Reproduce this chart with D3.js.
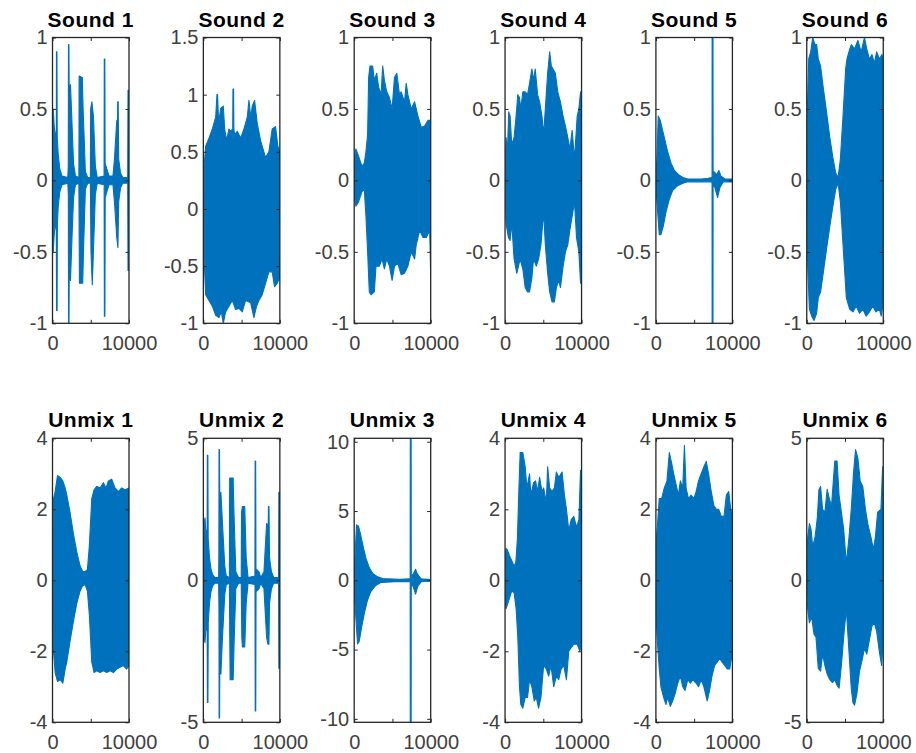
<!DOCTYPE html>
<html><head><meta charset="utf-8">
<script src="https://cdn.jsdelivr.net/npm/d3@7/dist/d3.min.js"></script>
<style>
body{margin:0;background:#fff;}
svg{display:block;font-family:"Liberation Sans",Arial,Helvetica,sans-serif;}
</style></head><body>
<svg id="chart" width="916" height="753"></svg>
<script>
// ---------- data ----------
const titles = ["Sound 1","Sound 2","Sound 3","Sound 4","Sound 5","Sound 6",
                "Unmix 1","Unmix 2","Unmix 3","Unmix 4","Unmix 5","Unmix 6"];
const xTicks = [0, 5000, 10000];
const xTickLabels = ["0", "", "10000"];
const yDomains = [[-1,1],[-1,1.5],[-1,1],[-1,1],[-1,1],[-1,1],
                  [-4,4],[-5,5],[-10.25,10.25],[-4,4],[-4,4],[-5,5]];
const yTicks = [[-1,-0.5,0,0.5,1],[-1,-0.5,0,0.5,1,1.5],[-1,-0.5,0,0.5,1],[-1,-0.5,0,0.5,1],[-1,-0.5,0,0.5,1],[-1,-0.5,0,0.5,1],
                [-4,-2,0,2,4],[-5,0,5],[-10,-5,0,5,10],[-4,-2,0,2,4],[-4,-2,0,2,4],[-5,0,5]];

// envelopes: [sample, value]
const sound1Hi = [[0,0.28],[100,0.5],[200,0.4],[350,0.3],[500,0.35],[520,0.9],[580,0.9],[620,0.3],[750,0.18],[950,0.08],[1250,0.03],[2000,0.02],[2060,0.1],[2090,0.95],[2150,0.95],[2180,0.6],[2350,0.67],[2550,0.4],[2750,0.12],[3000,0.03],[3450,0.02],[3480,0.73],[3900,0.72],[4000,0.5],[4300,0.06],[4600,0.02],[4950,0.02],[4990,0.5],[5150,0.55],[5350,0.45],[5600,0.1],[5850,0.02],[6740,0.03],[6770,0.85],[6840,0.85],[6880,0.12],[7100,0.08],[7400,0.03],[7900,0.03],[8100,0.15],[8400,0.42],[8500,0.38],[8520,0.55],[8590,0.55],[8650,0.15],[8900,0.05],[9200,0.02],[9830,0.02],[9870,0.63],[10000,0.63]];
const sound1Lo = [[0,-0.28],[100,-0.5],[200,-0.4],[350,-0.3],[500,-0.35],[530,-0.91],[600,-0.91],[640,-0.3],[750,-0.18],[950,-0.08],[1250,-0.03],[2000,-0.02],[2070,-0.1],[2100,-1.0],[2160,-1.0],[2190,-0.6],[2350,-0.7],[2550,-0.4],[2750,-0.12],[3000,-0.03],[3450,-0.02],[3520,-0.72],[3950,-0.72],[4050,-0.5],[4300,-0.06],[4600,-0.02],[4950,-0.02],[5030,-0.5],[5200,-0.73],[5380,-0.45],[5600,-0.1],[5850,-0.02],[6750,-0.03],[6780,-0.95],[6850,-0.95],[6890,-0.12],[7100,-0.08],[7400,-0.03],[7900,-0.03],[8100,-0.15],[8400,-0.4],[8550,-0.47],[8650,-0.15],[8900,-0.05],[9200,-0.02],[9830,-0.02],[9870,-0.63],[10000,-0.63]];

const sound2Hi = [[0,0.3],[304,0.55],[739,0.62],[1174,0.7],[1609,0.8],[1780,1.0],[1860,1.0],[2000,0.75],[2261,0.88],[2609,0.9],[2783,0.7],[3043,0.6],[3348,0.7],[3565,0.68],[3840,0.7],[3870,1.05],[3950,1.05],[3990,0.7],[4087,0.65],[4435,0.68],[4870,0.62],[5304,0.7],[5739,0.8],[5957,0.95],[6200,0.8],[6391,0.9],[6696,0.95],[7043,0.75],[7478,0.6],[8130,0.45],[8565,0.5],[9000,0.7],[9435,0.72],[9739,0.55],[10000,0.5]];
const sound2Lo = [[0,-0.3],[304,-0.75],[739,-0.8],[1174,-0.85],[1609,-0.93],[2043,-0.95],[2348,-0.9],[2609,-1.0],[2913,-0.9],[3348,-0.85],[3783,-0.8],[4217,-0.88],[4652,-0.87],[5087,-0.9],[5522,-0.8],[6174,-0.82],[6609,-0.95],[6957,-0.85],[7261,-0.8],[7696,-0.75],[8130,-0.65],[8565,-0.55],[9000,-0.55],[9304,-0.68],[9652,-0.65],[10000,-0.6]];

const sound3Hi = [[0,0.15],[219,0.22],[570,0.17],[1009,0.1],[1316,0.12],[1535,0.2],[1754,0.32],[1886,0.72],[2061,0.8],[2412,0.8],[2632,0.7],[2939,0.75],[3202,0.65],[3509,0.6],[3728,0.8],[3947,0.7],[4254,0.62],[4605,0.58],[4956,0.5],[5263,0.72],[5570,0.75],[5921,0.6],[6140,0.62],[6579,0.55],[6798,0.68],[7018,0.6],[7456,0.5],[7895,0.55],[8333,0.45],[8772,0.37],[9211,0.38],[9649,0.42],[9868,0.42],[10000,0.35]];
const sound3Lo = [[0,-0.12],[219,-0.18],[570,-0.15],[1009,-0.08],[1316,-0.06],[1535,-0.25],[1754,-0.5],[1974,-0.78],[2193,-0.8],[2632,-0.78],[2851,-0.6],[3289,-0.6],[3640,-0.55],[3947,-0.62],[4254,-0.55],[4605,-0.6],[4956,-0.7],[5263,-0.6],[5702,-0.58],[6140,-0.66],[6579,-0.65],[7018,-0.6],[7456,-0.5],[7895,-0.55],[8114,-0.45],[8553,-0.35],[8991,-0.4],[9430,-0.4],[9868,-0.35],[10000,-0.68]];

const sound4Hi = [[0,0.1],[132,0.3],[307,0.2],[482,0.48],[658,0.45],[877,0.25],[1184,0.3],[1447,0.45],[1667,0.6],[1886,0.58],[2061,0.5],[2325,0.62],[2632,0.62],[2939,0.6],[3202,0.68],[3509,0.78],[3728,0.7],[3947,0.78],[4254,0.6],[4518,0.55],[4825,0.45],[5044,0.32],[5263,0.5],[5570,0.75],[5833,0.9],[6053,0.8],[6272,0.78],[6579,0.75],[6886,0.62],[7237,0.55],[7588,0.45],[7895,0.38],[8202,0.3],[8465,0.22],[8772,0.35],[9079,0.15],[9430,0.45],[9649,0.5],[9868,0.62],[10000,0.55]];
const sound4Lo = [[0,-0.1],[132,-0.3],[439,-0.4],[658,-0.42],[877,-0.3],[1184,-0.55],[1535,-0.65],[1754,-0.6],[1974,-0.55],[2325,-0.62],[2632,-0.75],[2939,-0.78],[3202,-0.78],[3509,-0.68],[3728,-0.55],[4079,-0.6],[4386,-0.55],[4693,-0.45],[5044,-0.22],[5263,-0.45],[5570,-0.65],[5833,-0.78],[6140,-0.85],[6447,-0.85],[6711,-0.75],[7018,-0.7],[7237,-0.75],[7588,-0.6],[7895,-0.5],[8202,-0.45],[8465,-0.35],[8772,-0.25],[9079,-0.15],[9342,-0.4],[9649,-0.5],[9868,-0.72],[10000,-0.6]];

const sound5Hi = [[0,0.05],[132,0.15],[308,0.45],[573,0.42],[881,0.35],[1189,0.28],[1542,0.2],[1982,0.12],[2423,0.07],[2952,0.04],[3524,0.02],[4185,0.01],[5947,0.01],[6828,0.015],[7269,0.02],[7340,0.02],[7355,1.5],[7460,1.5],[7475,0.06],[7621,0.06],[7930,0.04],[8238,0.07],[8502,0.03],[9031,0.01],[10000,0.01]];
const sound5Lo = [[0,-0.05],[132,-0.15],[441,-0.38],[661,-0.38],[969,-0.32],[1322,-0.22],[1762,-0.13],[2203,-0.07],[2775,-0.04],[3524,-0.02],[4185,-0.01],[7269,-0.01],[7340,-0.02],[7355,-1.5],[7460,-1.5],[7475,-0.03],[7709,-0.05],[8062,-0.12],[8370,-0.05],[8811,-0.01],[10000,-0.01]];

const sound6Hi = [[0,0.05],[86,0.5],[259,0.85],[517,0.9],[776,1.0],[1078,0.95],[1293,0.95],[1509,0.85],[1810,0.8],[2155,0.65],[2586,0.48],[3017,0.3],[3448,0.15],[3793,0.05],[4095,0.02],[4397,0.15],[4741,0.45],[5086,0.78],[5259,0.85],[5517,0.9],[5819,0.95],[6250,0.92],[6681,0.98],[7112,0.9],[7543,1.0],[7845,0.92],[8190,0.85],[8534,0.88],[8836,0.82],[9138,0.9],[9483,0.85],[9828,0.88],[10000,0.85]];
const sound6Lo = [[0,-0.1],[129,-0.6],[345,-0.9],[647,-0.95],[948,-0.98],[1293,-0.93],[1509,-0.82],[1810,-0.78],[2155,-0.65],[2586,-0.48],[3017,-0.32],[3448,-0.17],[3793,-0.06],[4095,-0.02],[4397,-0.15],[4741,-0.45],[5172,-0.82],[5603,-0.9],[6034,-0.92],[6466,-0.88],[6897,-0.93],[7328,-0.9],[7759,-0.95],[8190,-0.92],[8621,-0.88],[9052,-0.92],[9483,-0.9],[9741,-0.95],[10000,-0.85]];

const unmix1Hi = [[0,0.3],[130,2.3],[348,2.5],[652,2.95],[1000,2.9],[1348,2.8],[1652,2.6],[1870,2.4],[2304,1.9],[2739,1.3],[3174,0.8],[3609,0.4],[3957,0.25],[4261,0.25],[4565,0.3],[4826,1.0],[5130,2.3],[5435,2.55],[5783,2.65],[6217,2.6],[6652,2.75],[7000,2.6],[7304,2.8],[7739,2.85],[8174,2.6],[8609,2.5],[9043,2.6],[9478,2.55],[10000,2.6]];
const unmix1Lo = [[0,-0.3],[130,-2.0],[348,-2.6],[652,-2.85],[1000,-2.8],[1348,-2.9],[1652,-2.5],[1870,-2.3],[2304,-1.7],[2739,-1.15],[3174,-0.65],[3609,-0.3],[3957,-0.15],[4261,-0.12],[4565,-0.3],[4826,-1.0],[5130,-2.3],[5435,-2.6],[5783,-2.55],[6217,-2.6],[6652,-2.55],[7087,-2.6],[7522,-2.55],[7957,-2.6],[8391,-2.5],[8826,-2.45],[9261,-2.4],[9696,-2.5],[10000,-2.4]];

const unmix2Hi = [[0,1.3],[100,2.0],[216,2.2],[350,1.6],[500,1.8],[520,4.4],[590,4.4],[630,1.5],[800,0.8],[996,0.4],[1212,0.2],[1500,0.1],[2000,0.1],[2030,1.0],[2050,4.6],[2110,4.6],[2150,2.5],[2294,3.1],[2500,2.0],[2800,0.5],[3000,0.15],[3400,0.1],[3440,3.6],[3896,3.6],[4000,2.4],[4242,0.3],[4600,0.1],[4950,0.1],[4990,2.4],[5108,2.6],[5411,2.6],[5600,0.8],[5844,0.1],[6740,0.15],[6770,4.2],[6840,4.2],[6880,0.4],[7273,0.3],[7500,0.1],[7922,0.3],[8268,2.0],[8480,1.9],[8510,2.6],[8580,2.6],[8650,0.8],[8900,0.3],[9200,0.1],[9830,0.1],[9870,3.1],[10000,3.1]];
const unmix2Lo = [[0,-1.3],[100,-2.0],[216,-2.2],[350,-1.6],[500,-1.8],[530,-4.3],[600,-4.3],[640,-1.5],[800,-0.8],[996,-0.4],[1212,-0.2],[1500,-0.1],[2000,-0.1],[2040,-1.0],[2060,-4.85],[2120,-4.85],[2160,-2.5],[2294,-3.3],[2500,-2.0],[2800,-0.5],[3000,-0.15],[3400,-0.1],[3500,-3.5],[3896,-3.5],[4000,-2.4],[4242,-0.3],[4600,-0.1],[4950,-0.1],[5030,-2.0],[5108,-2.35],[5411,-2.35],[5600,-0.8],[5844,-0.1],[6750,-0.15],[6780,-4.6],[6850,-4.6],[6890,-0.4],[7273,-0.3],[7500,-0.1],[7922,-0.3],[8268,-2.0],[8442,-2.25],[8571,-2.25],[8650,-0.8],[8900,-0.3],[9200,-0.1],[9830,-0.1],[9870,-3.1],[10000,-3.1]];

const unmix3Hi = [[0,0.5],[132,2.0],[307,4.0],[570,3.9],[877,3.2],[1184,2.4],[1535,1.6],[1974,0.9],[2412,0.5],[3070,0.25],[3728,0.12],[5921,0.08],[7200,0.1],[7320,0.1],[7335,12],[7440,12],[7455,0.4],[7675,0.4],[8026,0.8],[8202,0.5],[8465,0.3],[8772,0.1],[10000,0.05]];
const unmix3Lo = [[0,-0.5],[132,-2.0],[439,-4.6],[658,-4.4],[965,-3.4],[1316,-2.4],[1754,-1.4],[2193,-0.8],[2763,-0.4],[3509,-0.15],[5921,-0.08],[7320,-0.1],[7335,-12],[7440,-12],[7455,-0.4],[7675,-0.4],[8026,-1.0],[8333,-0.4],[8772,-0.1],[10000,-0.05]];

const unmix4Hi = [[0,0.7],[132,0.9],[307,0.85],[570,0.7],[877,0.55],[1184,0.4],[1404,0.5],[1623,1.2],[1754,2.2],[1974,3.6],[2325,3.6],[2632,3.2],[2851,2.6],[3202,3.0],[3377,2.4],[3728,2.75],[3991,2.8],[4254,2.5],[4518,2.9],[4825,2.5],[5044,2.6],[5395,2.2],[5570,3.2],[5833,2.6],[6140,2.5],[6447,2.6],[6711,3.05],[7018,2.9],[7456,3.05],[7763,2.4],[8026,2.0],[8333,1.4],[8640,1.7],[8991,1.8],[9342,1.5],[9649,1.7],[9868,3.1],[10000,2.0]];
const unmix4Lo = [[0,-0.7],[132,-0.8],[439,-0.6],[877,-0.3],[1184,-0.35],[1447,-0.8],[1667,-1.6],[1886,-3.0],[2061,-3.5],[2325,-3.6],[2632,-3.3],[2939,-3.3],[3202,-2.8],[3509,-3.0],[3816,-3.4],[4079,-3.3],[4386,-3.6],[4693,-3.3],[5044,-2.4],[5395,-2.5],[5702,-2.7],[6009,-2.4],[6360,-3.0],[6711,-2.7],[7018,-2.8],[7325,-2.5],[7675,-2.4],[8026,-2.8],[8333,-2.0],[8640,-1.9],[8991,-1.8],[9430,-1.8],[9781,-2.0],[10000,-1.8]];

const unmix5Hi = [[0,1.0],[219,1.6],[439,2.3],[746,2.3],[1096,2.6],[1447,2.8],[1754,3.6],[2061,3.3],[2325,3.0],[2632,2.7],[2939,2.4],[3202,2.8],[3509,2.6],[3728,3.8],[3947,2.6],[4254,2.3],[4605,2.4],[4956,2.3],[5263,2.5],[5570,2.8],[5921,3.0],[6272,3.2],[6579,3.35],[6886,3.0],[7237,2.5],[7588,2.1],[7895,2.0],[8202,2.0],[8553,1.8],[8904,1.8],[9211,2.4],[9518,2.5],[9781,2.0],[10000,1.8]];
const unmix5Lo = [[0,-1.0],[219,-1.8],[439,-2.5],[658,-3.0],[1009,-3.3],[1316,-3.5],[1535,-3.3],[1886,-3.55],[2193,-3.4],[2500,-3.2],[2851,-2.9],[3202,-2.7],[3509,-3.0],[3816,-3.1],[4167,-2.8],[4518,-2.9],[4825,-2.8],[5263,-2.9],[5570,-3.0],[5921,-2.8],[6272,-3.0],[6711,-3.4],[7018,-3.1],[7325,-2.7],[7675,-2.4],[8026,-2.3],[8333,-2.2],[8640,-2.3],[8991,-2.4],[9342,-2.5],[9649,-2.5],[9868,-2.2],[10000,-2.2]];

const unmix6Hi = [[0,0.5],[129,1.5],[345,2.0],[560,1.8],[776,1.2],[1078,1.5],[1379,2.2],[1595,3.2],[1810,3.3],[2069,2.5],[2371,2.4],[2672,3.2],[2931,2.9],[3233,2.6],[3664,4.2],[3966,4.2],[4224,3.0],[4526,2.4],[4828,1.8],[5172,0.6],[5517,1.5],[5819,2.5],[6121,3.8],[6379,4.6],[6681,4.3],[6983,3.5],[7328,3.3],[7672,2.5],[7974,2.0],[8405,1.5],[8707,1.1],[8966,1.5],[9267,2.4],[9698,2.5],[9914,4.0],[10000,2.5]];
const unmix6Lo = [[0,-0.3],[129,-1.0],[345,-1.5],[647,-1.3],[948,-1.9],[1207,-2.0],[1509,-3.1],[1810,-3.2],[2069,-2.6],[2371,-3.0],[2672,-3.3],[3017,-3.5],[3362,-3.6],[3664,-3.5],[3966,-3.7],[4224,-3.8],[4526,-3.0],[4828,-2.0],[5172,-1.0],[5517,-2.5],[5819,-3.8],[6034,-4.3],[6250,-4.4],[6552,-4.0],[6897,-3.2],[7241,-2.8],[7543,-2.4],[7845,-2.6],[8190,-2.1],[8534,-1.6],[8836,-1.5],[9138,-1.8],[9483,-2.5],[9784,-3.0],[10000,-2.0]];

const highs = [sound1Hi,sound2Hi,sound3Hi,sound4Hi,sound5Hi,sound6Hi,unmix1Hi,unmix2Hi,unmix3Hi,unmix4Hi,unmix5Hi,unmix6Hi];
const lows  = [sound1Lo,sound2Lo,sound3Lo,sound4Lo,sound5Lo,sound6Lo,unmix1Lo,unmix2Lo,unmix3Lo,unmix4Lo,unmix5Lo,unmix6Lo];

// ---------- layout ----------
const svg = d3.select("#chart");
svg.append("rect").attr("width",916).attr("height",753).attr("fill","#fff");
const colLeft0 = 52.5, colStep = 150.85, pw = 76.5;
const rowTop = [37.5, 438.3], rowH = [285.8, 284];
const blue = "#0072BD", axisCol = "#262626";

titles.forEach((t, i) => {
  const row = Math.floor(i/6), col = i % 6;
  const L = colLeft0 + col*colStep, T = rowTop[row], H = rowH[row];
  const x = d3.scaleLinear().domain([0,10000]).range([L, L+pw]);
  const y = d3.scaleLinear().domain(yDomains[i]).range([T+H, T]);
  const g = svg.append("g");
  const cid = "clip"+i;
  svg.append("clipPath").attr("id",cid).append("rect")
     .attr("x",L).attr("y",T).attr("width",pw).attr("height",H);

  const line = d3.line().x(d=>x(d[0])).y(d=>y(d[1]));
  const poly = highs[i].concat(lows[i].slice().reverse());
  g.append("path").attr("clip-path",`url(#${cid})`)
    .attr("d", line(poly)+"Z")
    .attr("fill",blue).attr("stroke",blue).attr("stroke-width",1.1)
    .attr("stroke-linejoin","round");

  // axes
  const yL = d3.axisLeft(y).tickValues(yTicks[i]).tickSize(-3.5).tickPadding(5).tickFormat(d=>String(d));
  const yR = d3.axisRight(y).tickValues(yTicks[i]).tickSize(-3.5).tickFormat("");
  const xB = d3.axisBottom(x).tickValues(xTicks).tickSize(-3.5).tickPadding(13).tickFormat((d,k)=>xTickLabels[k]);
  const xT = d3.axisTop(x).tickValues(xTicks).tickSize(-3.5).tickFormat("");
  const styleAx = s => { s.select(".domain").remove(); s.selectAll("line").attr("stroke",axisCol).attr("stroke-width",1);
                         s.selectAll("text").attr("fill","#404040").style("font-size","20px"); };
  g.append("g").attr("transform",`translate(${L},0)`).call(yL).call(styleAx);
  g.append("g").attr("transform",`translate(${L+pw},0)`).call(yR).call(styleAx);
  g.append("g").attr("transform",`translate(0,${T+H})`).call(xB).call(styleAx);
  g.append("g").attr("transform",`translate(0,${T})`).call(xT).call(styleAx);
  g.append("rect").attr("x",L).attr("y",T).attr("width",pw).attr("height",H)
    .attr("fill","none").attr("stroke",axisCol).attr("stroke-width",1.3);

  g.append("text").attr("x",L+pw/2).attr("y",T-11).attr("text-anchor","middle")
    .style("font-size","21px").style("font-weight","bold").style("letter-spacing","0.5px")
    .attr("fill","#000").text(t);
});
</script>
</body></html>
